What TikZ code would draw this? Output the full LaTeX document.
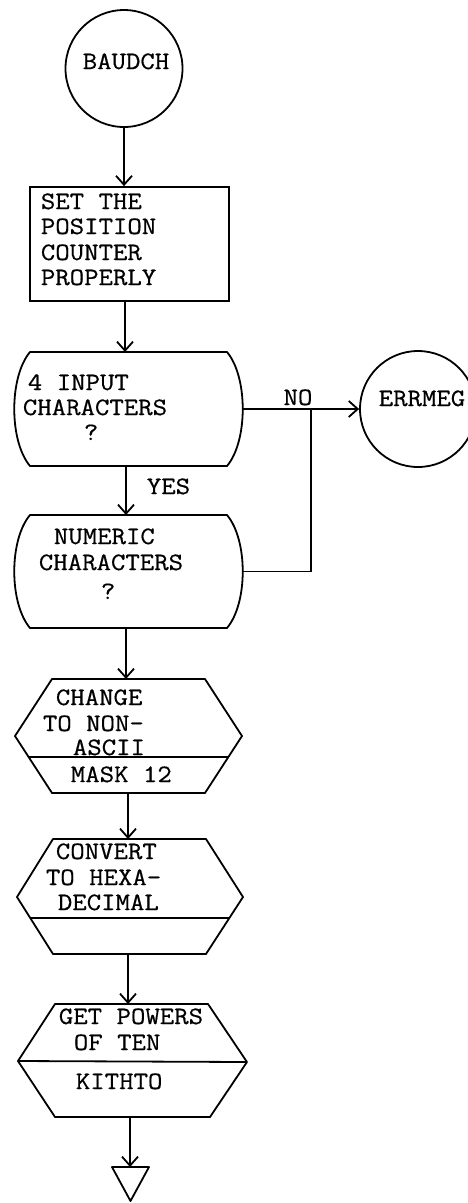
\documentclass[tikz,border=0pt]{standalone}
\usepackage{fontspec}
\newfontfamily\tw{Latin Modern Mono}[FakeStretch=1.12,FakeBold=0.6]
\usetikzlibrary{arrows.meta}
\begin{document}
\begin{tikzpicture}[x=1pt,y=-1pt,line width=1.8pt,
  txt/.style={font=\tw\fontsize{25pt}{25pt}\selectfont,inner sep=0pt,anchor=west,text height=14pt,text depth=0pt},
  arr/.style={-{Straight Barb[length=9pt,width=16pt]}},
  shp/.style={draw,line join=round}]
\useasboundingbox (0,0) rectangle (468,1203);
% start terminal
\node[circle,draw,minimum size=117pt,inner sep=0pt] (baudch) at (124,68.5) {};
\node[txt,anchor=center] (baudchT) at (126,62) {BAUDCH};
% process box
\node[draw,minimum width=199pt,minimum height=114pt,inner sep=0pt] (box) at (129.5,244) {};
\node[txt] (b1) at (40,202) {SET THE};
\node[txt] (b2) at (40,227) {POSITION};
\node[txt] (b3) at (40,253) {COUNTER};
\node[txt] (b4) at (40,278) {PROPERLY};
% decision 1
\draw[shp] (30,352) -- (227,352) .. controls (248,377) and (248,441) .. (227,466)
  -- (30,466) .. controls (9,441) and (9,377) .. (30,352) -- cycle;
\coordinate (d1n) at (125,352);
\coordinate (d1s) at (126,466);
\coordinate (d1e) at (242,409);
\node[txt] (d1a) at (27,383) {4 INPUT};
\node[txt] (d1b) at (22,408) {CHARACTERS};
\node[txt] (d1c) at (83,433) {?};
% decision 2
\draw[shp] (30,515) -- (227,515) .. controls (248,540) and (248,603) .. (227,628)
  -- (30,628) .. controls (9,603) and (9,540) .. (30,515) -- cycle;
\coordinate (d2n) at (126,515);
\coordinate (d2s) at (126,628);
\coordinate (d2e) at (243,571.5);
\node[txt] (d2a) at (53,537) {NUMERIC};
\node[txt] (d2b) at (38,563) {CHARACTERS};
\node[txt] (d2c) at (100,592) {?};
% error connector
\node[circle,draw,minimum size=116pt,inner sep=0pt] (errmeg) at (418,409) {};
\node[txt,anchor=center] (errmegT) at (422,399) {ERRMEG};
% hexagon 1
\draw[shp] (52,679) -- (205,679) -- (242,736) -- (205,793) -- (52,793) -- (15,736) -- cycle;
\draw (28.6,757) -- (228.4,757);
\coordinate (h1n) at (126,679);
\coordinate (h1s) at (128,793);
\node[txt] (h1a) at (55,698) {CHANGE};
\node[txt] (h1b) at (42,724) {TO NON-};
\node[txt] (h1c) at (72,748) {ASCII};
\node[txt] (h1d) at (70,775) {MASK 12};
% hexagon 2
\draw[shp] (53,839) -- (206,839) -- (243,897) -- (206,954) -- (53,954) -- (17,897) -- cycle;
\draw (30.3,918) -- (229.4,918);
\coordinate (h2n) at (128,839);
\coordinate (h2s) at (128,954);
\node[txt] (h2a) at (55,852) {CONVERT};
\node[txt] (h2b) at (45,878) {TO HEXA-};
\node[txt] (h2c) at (57,903) {DECIMAL};
% hexagon 3
\draw[shp] (55,1004) -- (208,1004) -- (247,1062) -- (210,1117) -- (55,1117) -- (18,1061) -- cycle;
\draw (18,1061) -- (247,1062);
\coordinate (h3n) at (128,1004);
\coordinate (h3s) at (130,1117);
\node[txt] (h3a) at (58,1017) {GET POWERS};
\node[txt] (h3b) at (73,1043) {OF TEN};
\node[txt] (h3c) at (75,1082) {KITHTO};
% off-page triangle
\draw[shp] (112,1167) -- (149,1167) -- (130.5,1201) -- cycle;
\coordinate (tri) at (130,1167);
% connectors
\draw[arr] (baudch.south) -- (baudch.south |- box.north);
\draw[arr] (d1n |- box.south) -- (d1n);
\draw[arr] (d1s) -- (d2n);
\draw[arr] (d1e) -- (errmeg.west);
\coordinate (jn) at (311,409);
\draw (d2e) -| (jn);
\draw[arr] (d2s) -- (h1n);
\draw[arr] (h1s) -- (h2n);
\draw[arr] (h2s) -- (h3n);
\draw[arr] (h3s) -- (tri);
\node[txt,anchor=center] (no) at (298,398) {NO};
\node[txt,anchor=center] (yes) at (168.5,487) {YES};
\end{tikzpicture}
\end{document}
